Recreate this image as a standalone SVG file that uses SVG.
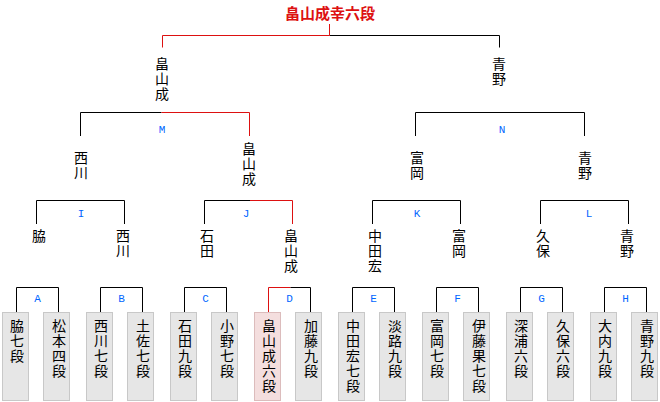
<svg xmlns="http://www.w3.org/2000/svg" width="660" height="402" viewBox="0 0 660 402">
<style>
.n{font-family:"Noto Sans CJK JP","Noto Sans CJK SC",sans-serif;font-size:14px;fill:#000;writing-mode:vertical-rl;letter-spacing:1px}
.t{font-family:"Noto Sans CJK JP","Noto Sans CJK SC",sans-serif;font-size:15px;font-weight:bold;text-anchor:middle;fill:#dd1111}
.l{font-family:"Liberation Mono","DejaVu Sans Mono",monospace;font-size:11px;text-anchor:middle;fill:#0066ff}
.k{fill:none;stroke:#000;stroke-width:1}
.r{fill:none;stroke:#dd1111;stroke-width:1}
.b{fill:#e6e6e6;stroke:#c8c8c8;stroke-width:1}
.p{fill:#f4dede;stroke:#dcbcbc;stroke-width:1}
</style>
<rect width="660" height="402" fill="#fff"/>
<g id="connectors">
<path class="k" d="M329.5 35.5H499.5V47.5"/>
<path class="r" d="M329.5 24V35.5H162.5V47.5"/>
<path class="k" d="M80.5 136V112.5H161.5"/>
<path class="r" d="M161.5 112.5H249.5V136"/>
<path class="k" d="M415.5 136V112.5H584.5V136"/>
<path class="k" d="M36.5 224V200.5H124.5V224"/>
<path class="k" d="M204.5 224V200.5H250"/>
<path class="r" d="M250 200.5H292.5V224"/>
<path class="k" d="M372.5 224V200.5H460.5V224"/>
<path class="k" d="M540.5 224V200.5H628.5V224"/>
<path class="k" d="M16.5 312V287.5H58.5V312"/>
<path class="k" d="M100.5 312V287.5H142.5V312"/>
<path class="k" d="M184.5 312V287.5H226.5V312"/>
<path class="r" d="M268.5 312V287.5H290.5"/>
<path class="k" d="M290.5 287.5H310.5V312"/>
<path class="k" d="M352.5 312V287.5H394.5V312"/>
<path class="k" d="M436.5 312V287.5H478.5V312"/>
<path class="k" d="M520.5 312V287.5H562.5V312"/>
<path class="k" d="M604.5 312V287.5H646.5V312"/>
</g>
<g id="labels">
<text class="l" x="162" y="132.5">M</text>
<text class="l" x="502" y="132.5">N</text>
<text class="l" x="81" y="217">I</text>
<text class="l" x="246" y="217">J</text>
<text class="l" x="417" y="217">K</text>
<text class="l" x="589" y="217">L</text>
<text class="l" x="37.5" y="302">A</text>
<text class="l" x="121.5" y="302">B</text>
<text class="l" x="205.5" y="302">C</text>
<text class="l" x="289.5" y="302">D</text>
<text class="l" x="373.5" y="302">E</text>
<text class="l" x="457.5" y="302">F</text>
<text class="l" x="541.5" y="302">G</text>
<text class="l" x="625.5" y="302">H</text>
</g>
<g id="winner"><text class="t" x="330" y="18.5">畠山成幸六段</text></g>
<g id="r1-hatakeyama"><text class="n" x="162" y="57">畠山成</text></g>
<g id="r1-aono"><text class="n" x="499" y="57">青野</text></g>
<g id="r2-nishikawa"><text class="n" x="81" y="151">西川</text></g>
<g id="r2-hatakeyama"><text class="n" x="249" y="142">畠山成</text></g>
<g id="r2-tomioka"><text class="n" x="417" y="151">富岡</text></g>
<g id="r2-aono"><text class="n" x="585" y="151">青野</text></g>
<g id="r3-waki"><text class="n" x="39" y="229">脇</text></g>
<g id="r3-nishikawa"><text class="n" x="123" y="229">西川</text></g>
<g id="r3-ishida"><text class="n" x="207" y="229">石田</text></g>
<g id="r3-hatakeyama"><text class="n" x="291" y="229">畠山成</text></g>
<g id="r3-nakata"><text class="n" x="375" y="229">中田宏</text></g>
<g id="r3-tomioka"><text class="n" x="459" y="229">富岡</text></g>
<g id="r3-kubo"><text class="n" x="543" y="229">久保</text></g>
<g id="r3-aono"><text class="n" x="627" y="229">青野</text></g>
<g id="p-waki"><rect class="b" x="2.5" y="312.5" width="26" height="88"/><text class="n" x="17" y="319">脇七段</text></g>
<g id="p-matsumoto"><rect class="b" x="43.5" y="312.5" width="26" height="88"/><text class="n" x="59" y="319">松本四段</text></g>
<g id="p-nishikawa"><rect class="b" x="86.5" y="312.5" width="26" height="88"/><text class="n" x="101" y="319">西川七段</text></g>
<g id="p-tosa"><rect class="b" x="127.5" y="312.5" width="26" height="88"/><text class="n" x="143" y="319">土佐七段</text></g>
<g id="p-ishida"><rect class="b" x="170.5" y="312.5" width="26" height="88"/><text class="n" x="185" y="319">石田九段</text></g>
<g id="p-ono"><rect class="b" x="211.5" y="312.5" width="26" height="88"/><text class="n" x="227" y="319">小野七段</text></g>
<g id="p-hatakeyama"><rect class="p" x="254.5" y="312.5" width="26" height="88"/><text class="n" x="269" y="319">畠山成六段</text></g>
<g id="p-kato"><rect class="b" x="295.5" y="312.5" width="26" height="88"/><text class="n" x="311" y="319">加藤九段</text></g>
<g id="p-nakata"><rect class="b" x="338.5" y="312.5" width="26" height="88"/><text class="n" x="353" y="319">中田宏七段</text></g>
<g id="p-awaji"><rect class="b" x="379.5" y="312.5" width="26" height="88"/><text class="n" x="395" y="319">淡路九段</text></g>
<g id="p-tomioka"><rect class="b" x="422.5" y="312.5" width="26" height="88"/><text class="n" x="437" y="319">富岡七段</text></g>
<g id="p-ito"><rect class="b" x="463.5" y="312.5" width="26" height="88"/><text class="n" x="479" y="319">伊藤果七段</text></g>
<g id="p-fukaura"><rect class="b" x="506.5" y="312.5" width="26" height="88"/><text class="n" x="521" y="319">深浦六段</text></g>
<g id="p-kubo"><rect class="b" x="547.5" y="312.5" width="26" height="88"/><text class="n" x="563" y="319">久保六段</text></g>
<g id="p-ouchi"><rect class="b" x="590.5" y="312.5" width="26" height="88"/><text class="n" x="605" y="319">大内九段</text></g>
<g id="p-aono"><rect class="b" x="631.5" y="312.5" width="26" height="88"/><text class="n" x="647" y="319">青野九段</text></g>
</svg>
